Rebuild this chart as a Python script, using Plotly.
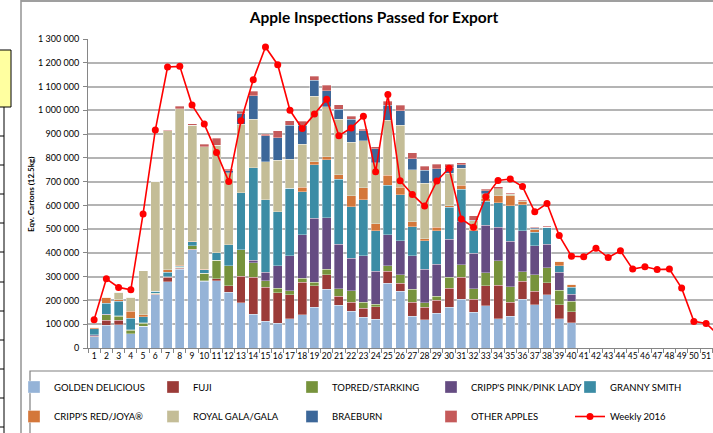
import plotly.graph_objects as go

# ---------------- data (thousand cartons) ----------------
weeks = list(range(1, 41))
all_weeks = list(range(1, 53))

golden = [47, 95, 98, 59, 91, 225, 279, 332, 413, 280, 284, 234, 190, 143, 113, 105, 124, 140, 172, 248,
          179, 154, 129, 122, 273, 238, 133, 119, 147, 171, 206, 150, 178, 123, 133, 206, 181, 223, 123, 107]
fuji = [3, 21, 18, 0, 0, 2, 18, 4, 2, 2, 7, 28, 111, 154, 142, 127, 99, 136, 90, 60,
        38, 39, 39, 51, 49, 35, 59, 53, 53, 81, 91, 56, 84, 140, 59, 74, 57, 51, 60, 46]
topred = [2, 24, 17, 16, 13, 3, 3, 4, 15, 33, 79, 85, 113, 61, 28, 20, 18, 18, 14, 24,
          33, 48, 24, 12, 24, 35, 56, 18, 17, 46, 53, 43, 55, 104, 66, 40, 70, 63, 61, 44]
pink_lady = [4, 3, 2, 2, 2, 0, 0, 0, 0, 0, 0, 0, 0, 12, 36, 95, 148, 182, 270, 217,
             187, 137, 197, 137, 130, 144, 141, 142, 136, 160, 182, 150, 200, 140, 192, 173, 123, 100, 75, 30]
granny = [24, 46, 61, 49, 26, 9, 19, 5, 18, 14, 30, 87, 240, 389, 304, 227, 283, 182, 226, 244,
          274, 217, 234, 172, 209, 192, 122, 120, 140, 134, 136, 95, 100, 105, 149, 110, 56, 70, 28, 29]
cripps_red = [7, 25, 8, 28, 8, 0, 10, 3, 2, 2, 0, 0, 0, 0, 0, 0, 0, 18, 11, 11,
              17, 46, 51, 28, 42, 32, 21, 7, 14, 7, 17, 3, 10, 28, 42, 13, 10, 0, 17, 13]
gala = [0, 0, 31, 60, 186, 461, 585, 659, 487, 515, 454, 304, 288, 204, 161, 216, 122, 181, 277, 211,
        235, 224, 197, 258, 232, 262, 217, 234, 193, 136, 71, 38, 22, 29, 6, 4, 5, 2, 0, 0]
braeburn = [0, 0, 0, 0, 0, 0, 0, 0, 0, 0, 0, 7, 44, 99, 108, 95, 143, 80, 67, 67,
            41, 97, 42, 59, 63, 60, 48, 55, 55, 24, 14, 3, 12, 2, 2, 0, 3, 0, 0, 0]
other = [0, 2, 0, 0, 0, 0, 3, 11, 7, 12, 28, 7, 10, 19, 8, 28, 19, 17, 16, 24,
         19, 14, 7, 8, 17, 23, 24, 17, 18, 14, 10, 18, 6, 7, 5, 4, 3, 4, 3, 2]
weekly_2016 = [119, 291, 255, 245, 564, 917, 1182, 1185, 1022, 942, 823, 700, 956, 1129, 1266, 1192,
               1000, 923, 984, 1047, 893, 926, 975, 742, 1066, 704, 646, 597, 703, 756, 543, 508,
               636, 705, 711, 679, 573, 608, 473, 386, 384, 420, 381, 409, 332, 342, 330, 332,
               252, 112, 103, 55]

series = [
    ("GOLDEN DELICIOUS", golden, "#95B3D7", "legend"),
    ("FUJI", fuji, "#9B3B38", "legend"),
    ("TOPRED/STARKING", topred, "#77933C", "legend"),
    ("CRIPP'S PINK/PINK LADY", pink_lady, "#654C82", "legend"),
    ("GRANNY SMITH", granny, "#3B8CA5", "legend"),
    ("CRIPP'S RED/JOYA®", cripps_red, "#D4773A", "legend2"),
    ("ROYAL GALA/GALA", gala, "#C4BD97", "legend2"),
    ("BRAEBURN", braeburn, "#3C6799", "legend2"),
    ("OTHER APPLES", other, "#C55A5A", "legend2"),
]

# ---------------- geometry ----------------
W, H = 713, 433
L, T = 88, 39
PB = 348
PW, PH = W - L, PB - T
STEP = 12.24


def xp(v):
    return (v - L) / PW


def yp(v):
    return (PB - v) / PH


FONT = "Lato"

fig = go.Figure()
for name, vals, color, leg in series:
    fig.add_trace(go.Bar(
        x=weeks, y=[v * 1000 for v in vals], name=name, legend=leg,
        marker=dict(color=color, line=dict(color="rgba(255,255,255,0.55)", width=0.6)),
    ))

fig.add_trace(go.Scatter(
    x=all_weeks, y=[v * 1000 for v in weekly_2016], name="Weekly 2016", legend="legend2",
    mode="lines+markers", line=dict(color="#FF0000", width=1.6),
    marker=dict(color="#FF0000", size=7),
))

shapes = []
# chart frame (top and left edges visible)
shapes.append(dict(type="line", xref="paper", yref="paper", x0=xp(21), x1=xp(760), y0=yp(1), y1=yp(1),
                   line=dict(color="#404040", width=1.2)))
shapes.append(dict(type="line", xref="paper", yref="paper", x0=xp(21), x1=xp(21), y0=yp(0), y1=yp(440),
                   line=dict(color="#9a9a9a", width=1.6)))
# legend box
shapes.append(dict(type="rect", xref="paper", yref="paper", x0=xp(30), x1=xp(760), y0=yp(371), y1=yp(450),
                   line=dict(color="#808080", width=1.2), fillcolor="rgba(0,0,0,0)"))
# spreadsheet cells on the far left
shapes.append(dict(type="rect", xref="paper", yref="paper", x0=xp(-5), x1=xp(11), y0=yp(50), y1=yp(107),
                   line=dict(color="#000000", width=1), fillcolor="#FFFFA0"))
shapes.append(dict(type="line", xref="paper", yref="paper", x0=xp(4), x1=xp(4), y0=yp(107), y1=yp(440),
                   line=dict(color="#000000", width=1)))
for yy in [136, 165, 194, 223, 252, 282, 311, 340, 369, 398, 427]:
    shapes.append(dict(type="line", xref="paper", yref="paper", x0=xp(-5), x1=xp(4), y0=yp(yy), y1=yp(yy),
                       line=dict(color="#000000", width=1)))

leg_common = dict(
    orientation="h", xref="paper", yref="paper", xanchor="left", yanchor="middle",
    entrywidth=94, entrywidthmode="pixels", itemwidth=30,
    font=dict(family=FONT, size=9.5, color="#000000"),
    bgcolor="rgba(0,0,0,0)", borderwidth=0, traceorder="normal",
)

fig.update_layout(
    width=W, height=H,
    margin=dict(l=L, r=0, t=T, b=H - PB, autoexpand=False),
    paper_bgcolor="white", plot_bgcolor="white",
    barmode="stack", bargap=0.27,
    separators=". ",
    font=dict(family=FONT, color="#000000"),
    title=dict(text="<b>Apple Inspections Passed for Export</b>", x=374 / W, xanchor="center",
               xref="container", y=1 - 18 / H, yanchor="middle", yref="container",
               font=dict(family=FONT, size=15.5, color="#000000")),
    xaxis=dict(range=[0.5, 0.5 + PW / STEP], tickmode="array", tickvals=all_weeks,
               ticktext=[str(w) for w in all_weeks], ticks="", showgrid=False, tickangle=0,
               showline=True, linecolor="#868686", linewidth=1,
               tickfont=dict(family=FONT, size=8.5, color="#000000"),
               minor=dict(tickmode="linear", tick0=0.5, dtick=1, ticks="outside", ticklen=4,
                          tickcolor="#868686", showgrid=False),
               zeroline=False),
    yaxis=dict(range=[0, 1300000], dtick=100000, tick0=0, tickformat=",d",
               showgrid=True, gridcolor="#b4b4b4", gridwidth=1.5,
               showline=True, linecolor="#868686", linewidth=1,
               ticks="outside", ticklen=4, tickcolor="#868686", ticklabelstandoff=2,
               tickfont=dict(family=FONT, size=9, color="#000000"), zeroline=False),
    legend=dict(leg_common, x=xp(14), y=yp(387)),
    legend2=dict(leg_common, x=xp(14), y=yp(416.5)),
    shapes=shapes,
    annotations=[dict(text="<b>Eqv. Cartons (12.5kg)</b>", xref="paper", yref="paper",
                      x=xp(31), y=yp(195), textangle=-90, showarrow=False,
                      xanchor="center", yanchor="middle",
                      font=dict(family=FONT, size=8, color="#000000"))],
)

fig.write_html("out.html", config={"displayModeBar": False},
               post_script="document.body.style.margin='0px';document.body.style.overflow='hidden';")
